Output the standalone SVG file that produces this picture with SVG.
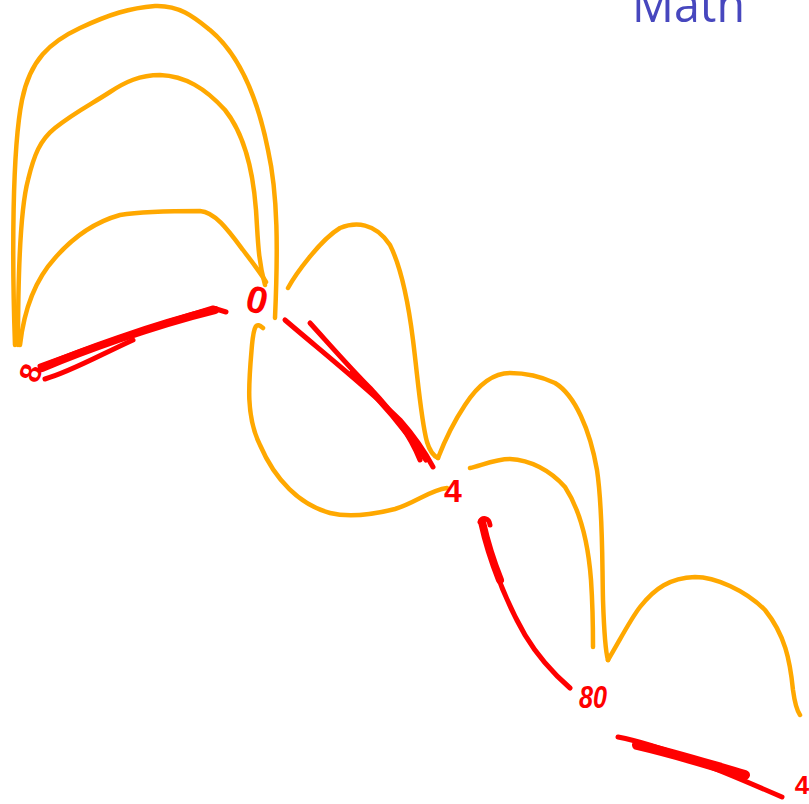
<svg xmlns="http://www.w3.org/2000/svg" width="809" height="804" viewBox="0 0 809 804">
<style>
.arc{fill:none;stroke:#FFA800;stroke-width:4.5;stroke-linecap:round;stroke-linejoin:round}
.ink{fill:none;stroke:#FF0000;stroke-width:5;stroke-linecap:round;stroke-linejoin:round}
.thick{stroke-width:8}
.num{fill:#FF0000;font-family:"Liberation Sans",Arial,sans-serif;font-weight:bold;text-anchor:middle}
.title{fill:#4747BE;font-family:"Open Sans","Liberation Sans",sans-serif;font-size:50px}
</style>
<rect width="809" height="804" fill="#FFFFFF"/>
<text class="title" x="632" y="22" textLength="113" lengthAdjust="spacingAndGlyphs">Math</text>
<g id="connectors">
  <path class="arc" d="M15,345 C12,260 12,150 22,100 C30,60 50,42 80,28 C110,14 130,8 155,6 C180,5 195,18 210,30 C240,55 258,100 268,150 C278,195 278,250 275,318"/>
  <path class="arc" d="M18,345 C18,280 20,210 28,180 C34,155 40,140 55,128 C75,112 90,105 110,92 C125,82 140,75 160,75 C185,76 205,88 225,110 C245,135 253,170 256,210 C258,240 258,260 265,285"/>
  <path class="arc" d="M20,345 C24,310 35,280 55,258 C75,235 95,222 120,215 C145,211 175,211 200,211 C215,212 228,230 243,250 C252,262 260,272 266,282"/>
  <path class="arc" d="M288,288 C295,275 320,240 340,228 C355,222 375,222 390,245 C400,265 408,300 413,340 C418,380 421,420 427,442 C430,452 434,456 438,458"/>
  <path class="arc" d="M263,328 C256,322 254,325 252,345 C249,380 245,415 260,445 C275,480 300,505 330,513 C350,518 375,514 395,509 C415,503 430,490 447,488"/>
  <path class="arc" d="M438,458 C445,440 455,420 465,405 C478,385 492,373 510,373 C525,373 540,376 555,383 C575,395 590,430 597,470 C603,510 602,560 603,600 C604,630 605,650 608,660"/>
  <path class="arc" d="M470,468 C480,466 495,459 510,459 C530,460 550,470 565,487 C580,510 588,540 591,580 C593,610 593,630 593,647"/>
  <path class="arc" d="M608,660 C620,640 630,620 640,607 C655,588 670,578 695,577 C715,577 745,590 765,610 C785,635 790,660 793,690 C795,705 798,712 800,715"/>
  <path class="ink thick" d="M42,368 C80,352 150,326 215,310"/>
  <path class="ink" d="M40,366 C70,355 140,330 213,308 L226,312"/>
  <path class="ink" d="M45,379 C70,372 100,355 133,340"/>
  <path class="ink" d="M285,320 C320,350 370,390 400,420 C415,437 425,452 433,467"/>
  <path class="ink" d="M310,323 C330,345 350,368 370,388 C395,415 410,435 420,460"/>
  <path class="ink" d="M352,372 C380,400 402,425 426,460"/>
  <path class="ink" d="M482,522 C490,560 505,600 525,635 C540,660 555,675 570,688"/>
  <path class="ink thick" d="M482,522 C486,540 492,560 500,580"/>
  <path class="ink" d="M480,522 C482,517 489,517 490,525"/>
  <path class="ink" d="M618,737 C660,745 720,770 782,797"/>
  <path class="ink" d="M637,745 C680,755 710,765 745,775" style="stroke-width:10"/>
</g>
<g id="node-a"><text class="num" x="31" y="383" font-size="30" transform="rotate(-70 31 373)">8</text></g>
<g id="node-b"><text class="num" x="257" y="313" font-size="38" transform="rotate(15 257 300)">0</text></g>
<g id="node-c"><text class="num" x="453" y="502" font-size="32">4</text></g>
<g id="node-d"><text class="num" x="593" y="708" font-size="32" font-style="italic" textLength="28" lengthAdjust="spacingAndGlyphs">80</text></g>
<g id="node-e"><text class="num" x="802" y="794" font-size="26">4</text></g>
</svg>
